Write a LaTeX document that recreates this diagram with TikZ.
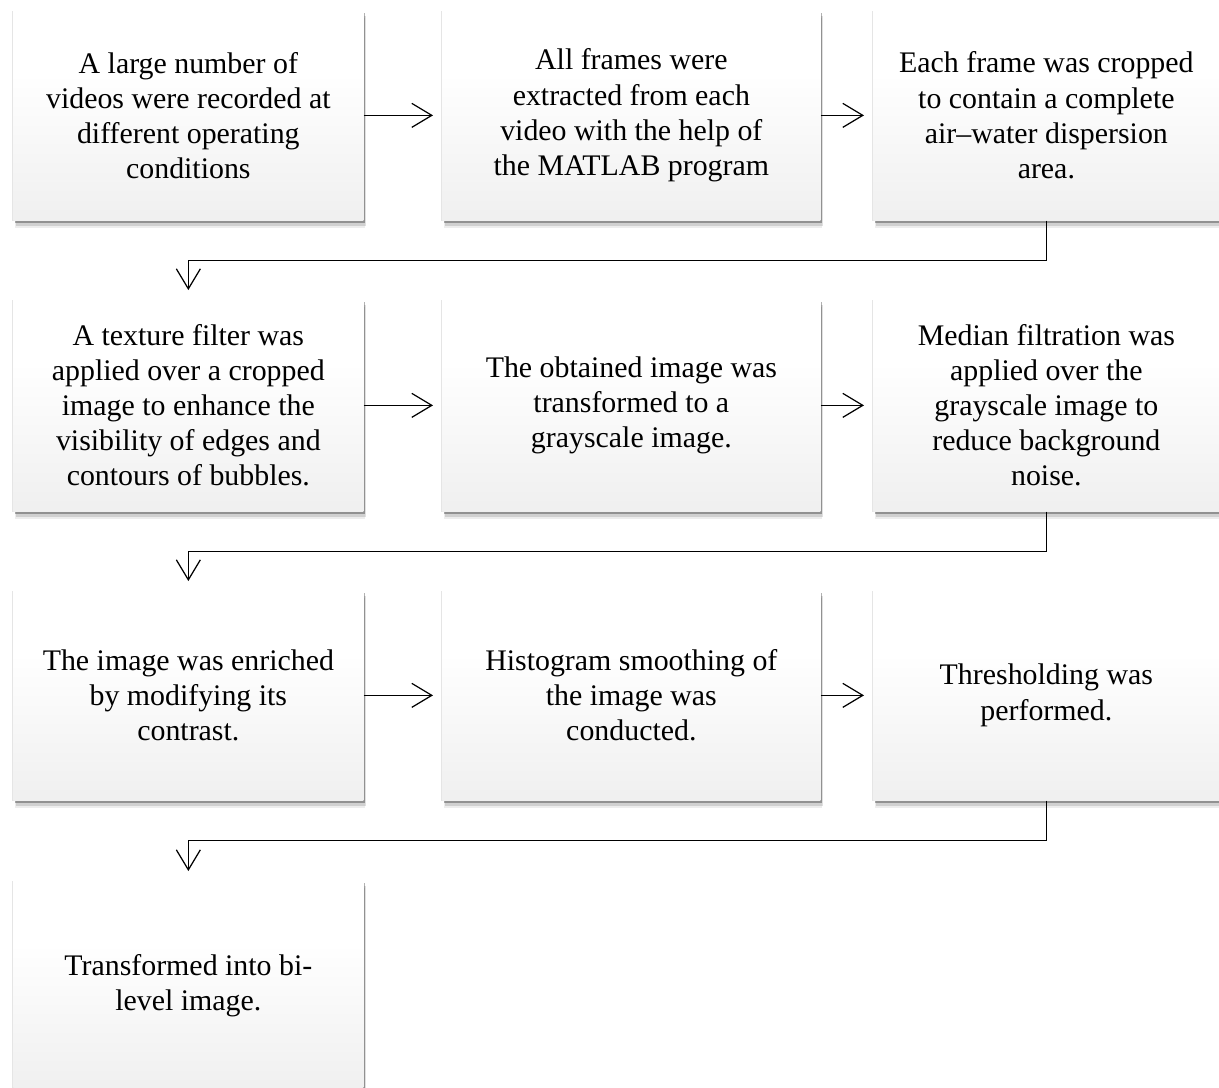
\documentclass[tikz,border=0pt]{standalone}
\usepackage{fontspec}
\setmainfont{Liberation Serif}
\usetikzlibrary{arrows.meta,shadows}

\pgfdeclareverticalshading{boxfade}{100bp}{color(0bp)=(black!11); color(20bp)=(black!7); color(60bp)=(white); color(100bp)=(white)}

\begin{document}
\begin{tikzpicture}[%
    stepbox/.style={shading=boxfade, anchor=north west, minimum height=4.2cm,
        align=center, inner sep=0pt, font=\fontsize{17}{20}\selectfont,
        drop shadow={shadow xshift=0.04cm, shadow yshift=-0.16cm, fill=black, opacity=0.07},
        drop shadow={shadow xshift=0.06cm, shadow yshift=-0.11cm, fill=black, opacity=0.12},
        drop shadow={shadow xshift=0.03cm, shadow yshift=-0.06cm, fill=black, opacity=0.3},
        drop shadow={shadow xshift=-0.02cm, shadow yshift=-0.02cm, fill=black, opacity=0.1}},
    colA/.style={minimum width=7cm},
    colB/.style={minimum width=7.56cm},
    colC/.style={minimum width=6.92cm},
    flow/.style={-{Straight Barb[length=0.4cm,width=0.48cm]}, line width=0.7pt, shorten >=0.18cm}]

    \useasboundingbox (0,0) rectangle (24.38,-21.76);

    % row 1
    \node[stepbox, colA] (rec) at (0.26,-0.2) {A large number of\\videos were recorded at\\different operating\\conditions};
    \node[stepbox, colB] (extract) at (8.84,-0.2) {All frames were\\extracted from each\\video with the help of\\the MATLAB program};
    \node[stepbox, colC] (crop) at (17.46,-0.2) {Each frame was cropped\\to contain a complete\\air–water dispersion\\area.};

    % row 2
    \node[stepbox, colA, minimum height=4.24cm] (texture) at (0.26,-5.98) {A texture filter was\\applied over a cropped\\image to enhance the\\visibility of edges and\\contours of bubbles.};
    \node[stepbox, colB, minimum height=4.24cm] (gray) at (8.84,-5.98) {The obtained image was\\transformed to a\\grayscale image.};
    \node[stepbox, colC, minimum height=4.24cm] (median) at (17.46,-5.98) {Median filtration was\\applied over the\\grayscale image to\\reduce background\\noise.};

    % row 3
    \node[stepbox, colA] (contrast) at (0.26,-11.8) {The image was enriched\\by modifying its\\contrast.};
    \node[stepbox, colB] (histo) at (8.84,-11.8) {Histogram smoothing of\\the image was\\conducted.};
    \node[stepbox, colC] (thresh) at (17.46,-11.8) {Thresholding was\\performed.};

    % row 4
    \node[stepbox, colA] (bilevel) at (0.26,-17.6) {Transformed into bi-\\level image.};

    \draw[flow] (rec.east) -- (extract.west);
    \draw[flow] (extract.east) -- (crop.west);
    \draw[flow] (crop.south) -- ++(0,-0.8) -| (texture.north);

    \draw[flow] (texture.east) -- (gray.west);
    \draw[flow] (gray.east) -- (median.west);
    \draw[flow] (median.south) -- ++(0,-0.8) -| (contrast.north);

    \draw[flow] (contrast.east) -- (histo.west);
    \draw[flow] (histo.east) -- (thresh.west);
    \draw[flow] (thresh.south) -- ++(0,-0.8) -| (bilevel.north);

\end{tikzpicture}
\end{document}
